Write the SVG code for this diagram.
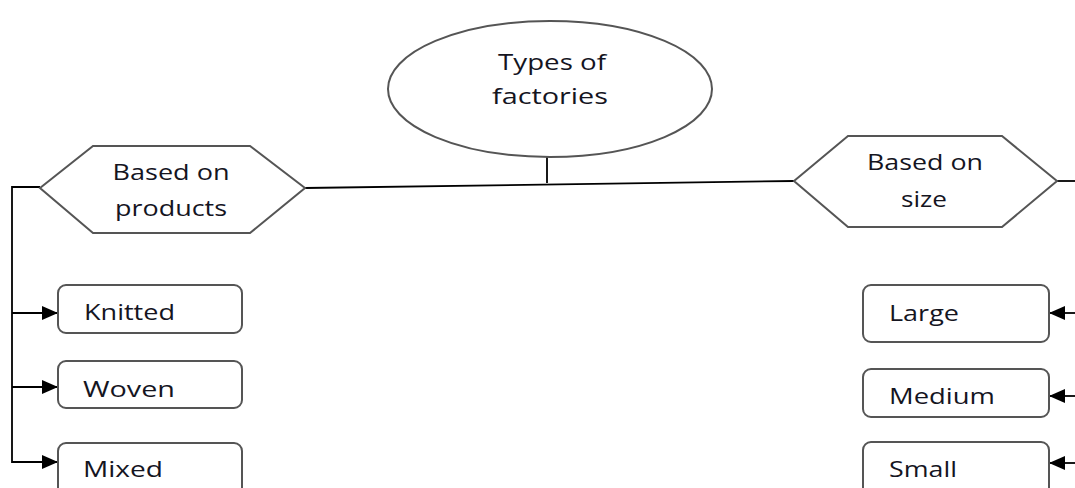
<svg xmlns="http://www.w3.org/2000/svg" width="1075" height="488" viewBox="0 0 1075 488">
<defs>
<marker id="arr" markerWidth="16" markerHeight="14" refX="15" refY="7" orient="auto" markerUnits="userSpaceOnUse">
<path d="M0,0 L16,7 L0,14 Z" fill="#000"/>
</marker>
<style>
.shape{fill:#fff;stroke:#555;stroke-width:2}
.conn{fill:none;stroke:#000;stroke-width:1.8}
.t{font-family:"Open Sans","DejaVu Sans",sans-serif;font-size:21px;fill:#15151f}
.c{text-anchor:middle}
</style>
</defs>
<rect width="1075" height="488" fill="#fff"/>
<g id="connectors">
<line class="conn" x1="547" y1="157" x2="547" y2="183"/>
<line class="conn" x1="305" y1="188" x2="794" y2="181"/>
<polyline class="conn" points="40,187 12,187 12,463"/>
<line class="conn" x1="12" y1="313" x2="57" y2="313" marker-end="url(#arr)"/>
<line class="conn" x1="12" y1="387" x2="57" y2="387" marker-end="url(#arr)"/>
<line class="conn" x1="12" y1="462" x2="57" y2="462" marker-end="url(#arr)"/>
<line class="conn" x1="1057" y1="181" x2="1075" y2="181"/>
<line class="conn" x1="1075" y1="313" x2="1050" y2="313" marker-end="url(#arr)"/>
<line class="conn" x1="1075" y1="396" x2="1050" y2="396" marker-end="url(#arr)"/>
<line class="conn" x1="1075" y1="463" x2="1050" y2="463" marker-end="url(#arr)"/>
</g>
<g id="root">
<ellipse class="shape" cx="550" cy="89" rx="162" ry="68"/>
<text class="t c" x="552" y="70" textLength="108" lengthAdjust="spacingAndGlyphs">Types of</text>
<text class="t c" x="550" y="104" textLength="116" lengthAdjust="spacingAndGlyphs">factories</text>
</g>
<g id="products">
<polygon class="shape" points="40,188 93,146 250,146 305,188 250,233 93,233"/>
<text class="t c" x="171" y="180" textLength="117" lengthAdjust="spacingAndGlyphs">Based on</text>
<text class="t c" x="171" y="216" textLength="112" lengthAdjust="spacingAndGlyphs">products</text>
</g>
<g id="size">
<polygon class="shape" points="794,181 848,136 1002,136 1057,181 1002,227 848,227"/>
<text class="t c" x="925" y="170" textLength="116" lengthAdjust="spacingAndGlyphs">Based on</text>
<text class="t c" x="924" y="207" textLength="46" lengthAdjust="spacingAndGlyphs">size</text>
</g>
<g id="knitted">
<rect class="shape" x="58" y="285" width="184" height="48" rx="8"/>
<text class="t" x="84" y="320" textLength="91" lengthAdjust="spacingAndGlyphs">Knitted</text>
</g>
<g id="woven">
<rect class="shape" x="58" y="361" width="184" height="47" rx="8"/>
<text class="t" x="83" y="397" textLength="92" lengthAdjust="spacingAndGlyphs">Woven</text>
</g>
<g id="mixed">
<rect class="shape" x="58" y="443" width="184" height="60" rx="8"/>
<text class="t" x="83" y="477" textLength="80" lengthAdjust="spacingAndGlyphs">Mixed</text>
</g>
<g id="large">
<rect class="shape" x="863" y="285" width="186" height="57" rx="8"/>
<text class="t" x="889" y="321" textLength="70" lengthAdjust="spacingAndGlyphs">Large</text>
</g>
<g id="medium">
<rect class="shape" x="863" y="369" width="186" height="48" rx="8"/>
<text class="t" x="889" y="404" textLength="106" lengthAdjust="spacingAndGlyphs">Medium</text>
</g>
<g id="small">
<rect class="shape" x="863" y="442" width="186" height="60" rx="8"/>
<text class="t" x="889" y="477" textLength="68" lengthAdjust="spacingAndGlyphs">Small</text>
</g>
</svg>
